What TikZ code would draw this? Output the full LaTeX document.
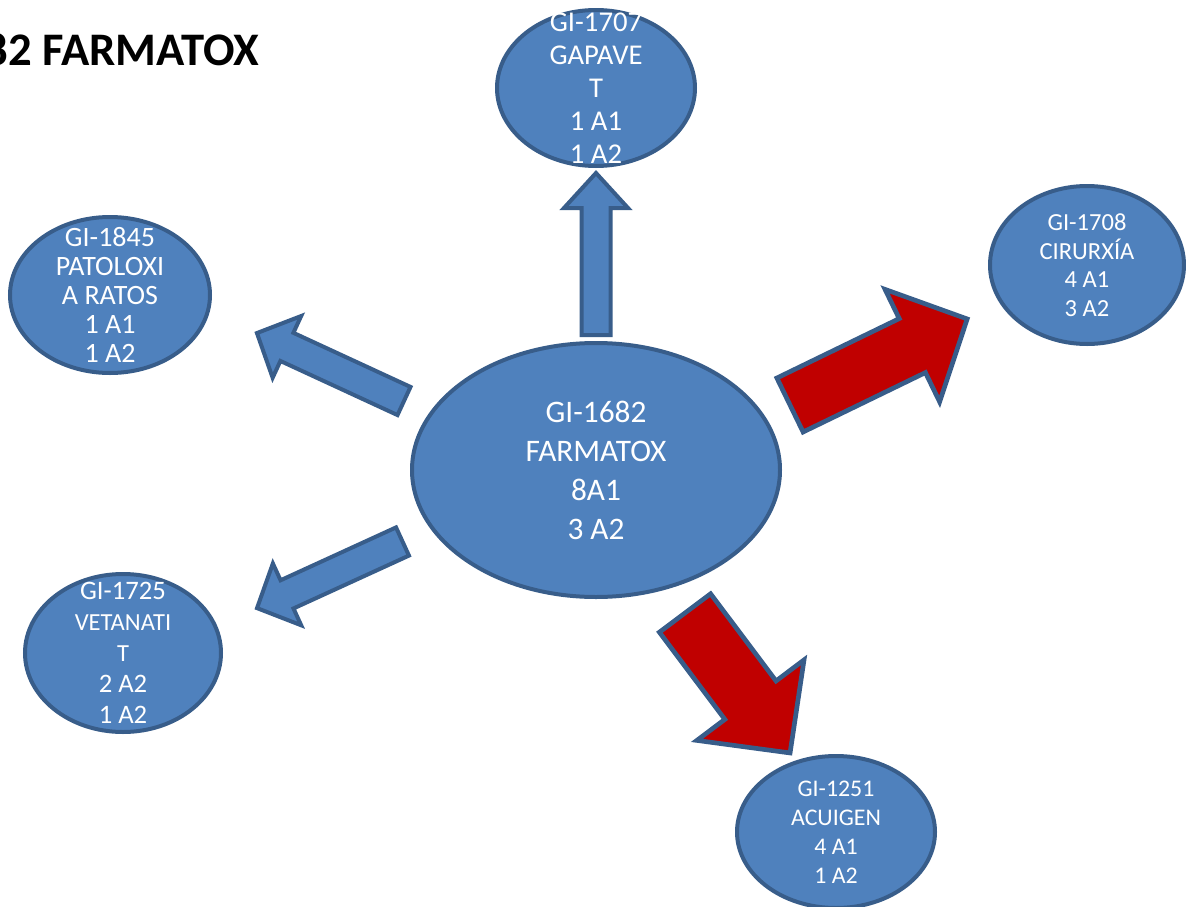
\documentclass[tikz,border=0pt]{standalone}
\usepackage{fontspec}
\setmainfont{Carlito}
\usetikzlibrary{shapes.geometric}

\definecolor{blobfill}{HTML}{4F81BD}
\definecolor{blobline}{HTML}{385D8A}
\definecolor{hotfill}{HTML}{C00000}

% Block arrow: tail centre (#1,#2), direction #3 (deg), length #4,
% shaft width #5, head width #6, head length #7, style #8
\newcommand\blockarr[8]{%
  \draw[#8, shift={(#1,#2)}, rotate=#3]
    (0,-#5/2) -- ({#4-#7},-#5/2) -- ({#4-#7},-#6/2) -- (#4,0)
    -- ({#4-#7},#6/2) -- ({#4-#7},#5/2) -- (0,#5/2) -- cycle;}

\tikzset{
  blob/.style={ellipse, draw=blobline, fill=blobfill, line width=3pt, inner sep=0pt},
  lbl/.style={text=white, align=center, inner sep=0pt},
  coolarrow/.style={draw=blobline, fill=blobfill, line width=3pt, line join=miter},
  hotarrow/.style={draw=blobline, fill=hotfill, line width=3.5pt, line join=miter},
}

\begin{document}
\begin{tikzpicture}[x=0.75pt, y=-0.75pt]
\useasboundingbox (0,0) rectangle (1186,907);
\clip (0,0) rectangle (1186,907);

% title, running off the left edge
\node[anchor=base east, inner sep=0pt, font=\fontsize{35}{40}\selectfont\bfseries]
  (title) at (259,65) {82 FARMATOX};

% arrows leaving the central group
\blockarr{596}{335}{90}{162}{29}{64}{35}{coolarrow}
\blockarr{404}{401}{155.2}{162}{31}{68}{33}{coolarrow}
\blockarr{402.5}{541.5}{204.6}{160}{31}{68}{33}{coolarrow}
\blockarr{790}{405}{25.9}{197}{60}{125}{61}{hotarrow}
\blockarr{685}{613}{-53.1}{175}{64}{134}{66}{hotarrow}

% groups
\node[blob, minimum width=276pt, minimum height=190.5pt] (farmatox) at (596,470) {};
\node[lbl, font=\fontsize{23.5}{29.25}\selectfont] at (farmatox) {GI-1682\\FARMATOX\\8A1\\3 A2};

\node[blob, minimum width=148.5pt, minimum height=117pt] (gapavet) at (596,88) {};
\node[lbl, font=\fontsize{21.5}{24.75}\selectfont] at (gapavet) {GI-1707\\GAPAVE\\T\\1 A1\\1 A2};

\node[blob, minimum width=150pt, minimum height=117pt] (patoloxia) at (110,295) {};
\node[lbl, font=\fontsize{21}{21.75}\selectfont] at (patoloxia) {GI-1845\\PATOLOXI\\A RATOS\\1 A1\\1 A2};

\node[blob, minimum width=145.5pt, minimum height=118.5pt] (cirurxia) at (1087,265) {};
\node[lbl, font=\fontsize{18.4}{21.4}\selectfont] at (cirurxia) {GI-1708\\CIRURXÍA\\4 A1\\3 A2};

\node[blob, minimum width=147pt, minimum height=118.5pt] (vetanatit) at (123,653) {};
\node[lbl, font=\fontsize{20}{23.25}\selectfont] at (vetanatit)
  {GI-1725\\{\fontsize{18.4}{23.25}\selectfont VETANATI}\\{\fontsize{18.4}{23.25}\selectfont T}\\2 A2\\1 A2};

\node[blob, minimum width=148.5pt, minimum height=114pt] (acuigen) at (836,832) {};
\node[lbl, font=\fontsize{17.9}{21.75}\selectfont] at (acuigen) {GI-1251\\ACUIGEN\\4 A1\\1 A2};
\end{tikzpicture}
\end{document}
